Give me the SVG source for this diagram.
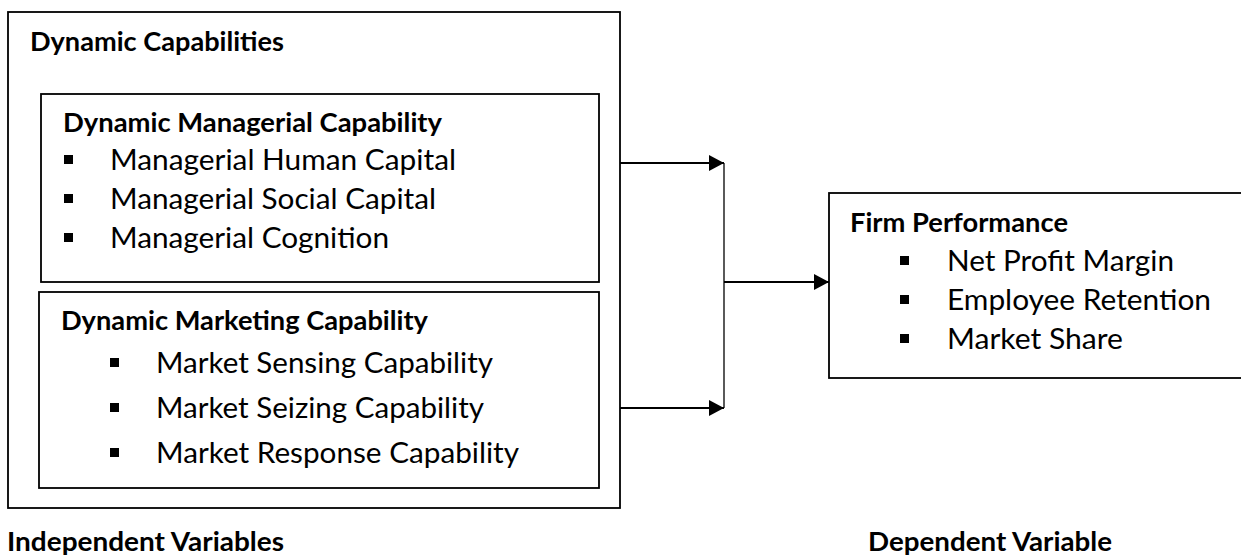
<svg xmlns="http://www.w3.org/2000/svg" width="1241" height="557" viewBox="0 0 1241 557">
  <style>
    .box { fill: #fff; stroke: #000; stroke-width: 1.8; }
    .h { font-family: Lato, "Open Sans", "Liberation Sans", sans-serif; font-weight: 700; font-size: 26px; fill: #000; }
    .t { font-family: Lato, "Open Sans", "Liberation Sans", sans-serif; font-weight: 400; font-size: 28px; fill: #000; }
    .b { fill: #000; }
    .conn { fill: none; stroke: #000; stroke-width: 2; }
    .vconn { fill: none; stroke: #000; stroke-width: 1.3; }
  </style>
  <defs>
    <marker id="arrow" markerUnits="userSpaceOnUse" markerWidth="15" markerHeight="16" refX="15" refY="8" orient="auto">
      <path d="M0,0 L15,8 L0,16 z" fill="#000"/>
    </marker>
  </defs>
  <rect width="1241" height="557" fill="#fff"/>

  <g id="dynamic-capabilities">
    <rect class="box" x="8" y="12" width="612" height="496"/>
    <text class="h" x="30" y="51" textLength="254" lengthAdjust="spacingAndGlyphs">Dynamic Capabilities</text>
  </g>

  <g id="dynamic-managerial-capability">
    <rect class="box" x="41" y="94" width="558" height="188"/>
    <text class="h" x="63" y="132" textLength="379" lengthAdjust="spacingAndGlyphs">Dynamic Managerial Capability</text>
    <rect class="b" x="64" y="155" width="9" height="9"/>
    <text class="t" x="110" y="170" textLength="346" lengthAdjust="spacingAndGlyphs">Managerial Human Capital</text>
    <rect class="b" x="64" y="194" width="9" height="9"/>
    <text class="t" x="110" y="209" textLength="326" lengthAdjust="spacingAndGlyphs">Managerial Social Capital</text>
    <rect class="b" x="64" y="233" width="9" height="9"/>
    <text class="t" x="110" y="248" textLength="279" lengthAdjust="spacingAndGlyphs">Managerial Cognition</text>
  </g>

  <g id="dynamic-marketing-capability">
    <rect class="box" x="39" y="292" width="560" height="196"/>
    <text class="h" x="61" y="330" textLength="367" lengthAdjust="spacingAndGlyphs">Dynamic Marketing Capability</text>
    <rect class="b" x="110" y="358" width="9" height="9"/>
    <text class="t" x="156" y="373" textLength="337" lengthAdjust="spacingAndGlyphs">Market Sensing Capability</text>
    <rect class="b" x="110" y="403" width="9" height="9"/>
    <text class="t" x="156" y="418" textLength="328" lengthAdjust="spacingAndGlyphs">Market Seizing Capability</text>
    <rect class="b" x="110" y="448" width="9" height="9"/>
    <text class="t" x="156" y="463" textLength="363" lengthAdjust="spacingAndGlyphs">Market Response Capability</text>
  </g>

  <g id="firm-performance">
    <rect class="box" x="829" y="193" width="420" height="185"/>
    <text class="h" x="850" y="232" textLength="218" lengthAdjust="spacingAndGlyphs">Firm Performance</text>
    <rect class="b" x="900" y="256" width="9" height="9"/>
    <text class="t" x="947" y="271" textLength="227" lengthAdjust="spacingAndGlyphs">Net Profit Margin</text>
    <rect class="b" x="900" y="295" width="9" height="9"/>
    <text class="t" x="947" y="310" textLength="264" lengthAdjust="spacingAndGlyphs">Employee Retention</text>
    <rect class="b" x="900" y="334" width="9" height="9"/>
    <text class="t" x="947" y="349" textLength="176" lengthAdjust="spacingAndGlyphs">Market Share</text>
  </g>

  <g id="labels">
    <text class="h" x="7" y="551" textLength="277" lengthAdjust="spacingAndGlyphs">Independent Variables</text>
    <text class="h" x="868" y="551" textLength="244" lengthAdjust="spacingAndGlyphs">Dependent Variable</text>
  </g>

  <g id="connectors">
    <line class="conn" x1="620" y1="163" x2="724" y2="163" marker-end="url(#arrow)"/>
    <line class="conn" x1="620" y1="408" x2="724" y2="408" marker-end="url(#arrow)"/>
    <line class="vconn" x1="724" y1="163" x2="724" y2="408"/>
    <line class="conn" x1="724" y1="282" x2="829" y2="282" marker-end="url(#arrow)"/>
  </g>
</svg>
